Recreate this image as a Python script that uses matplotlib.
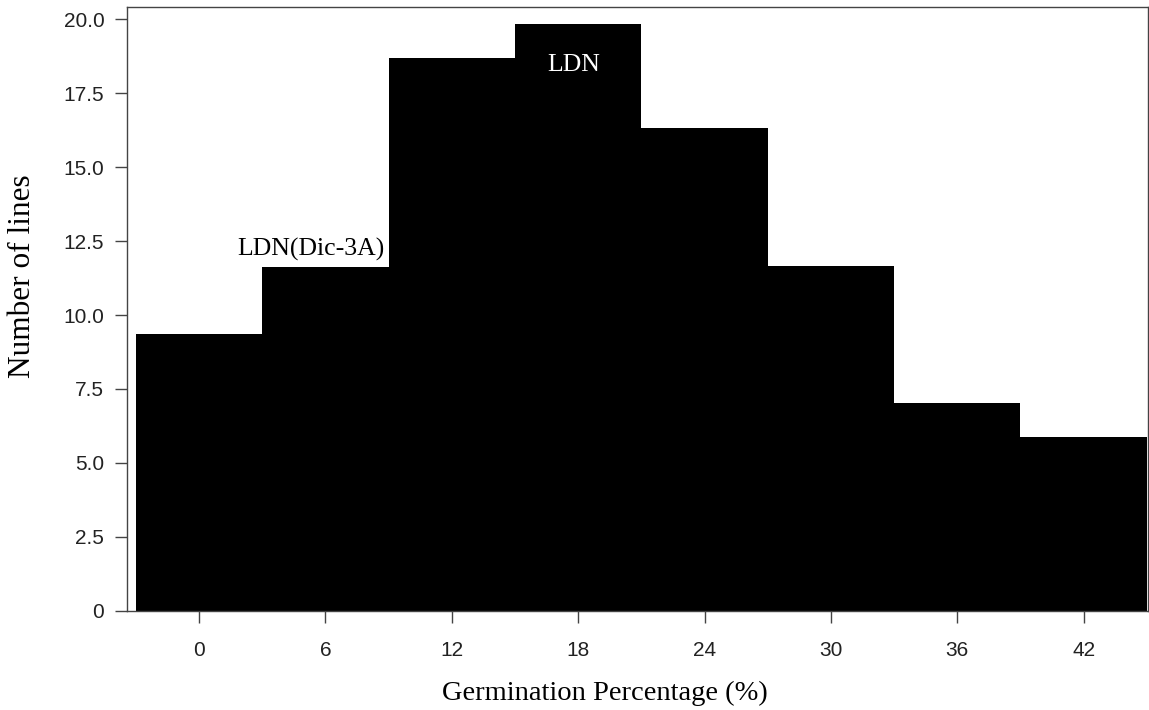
import matplotlib
matplotlib.use('Agg')
import matplotlib.pyplot as plt
from matplotlib import font_manager
from matplotlib.ticker import FuncFormatter

# germination percentage classes (bin centres, width 6) and line counts
bin_centres = [0, 6, 12, 18, 24, 30, 36, 42]
line_counts = [9.35, 11.62, 18.68, 19.83, 16.33, 11.67, 7.01, 5.86]
y_ticks = [0, 2.5, 5.0, 7.5, 10.0, 12.5, 15.0, 17.5, 20.0]


def pick_font(names):
    installed = {f.name for f in font_manager.fontManager.ttflist}
    for n in names:
        if n in installed:
            return n
    return 'DejaVu Sans'


tick_font = pick_font(['Liberation Sans Narrow', 'Liberation Sans', 'DejaVu Sans'])
serif_font = pick_font(['Liberation Serif', 'DejaVu Serif'])

fig = plt.figure(figsize=(11.49, 7.10), dpi=100)
ax = fig.add_axes([126.7 / 1149, 1 - 610.7 / 710, (1148 - 126.7) / 1149, (610.7 - 7) / 710])

ax.bar(bin_centres, line_counts, width=6, color='black', linewidth=0)

ax.set_xlim(-3.44, 45.06)
ax.set_ylim(0, 20.42)

ax.set_xticks(bin_centres)
ax.set_yticks(y_ticks)
ax.yaxis.set_major_formatter(FuncFormatter(lambda v, p: '0' if v == 0 else '%.1f' % v))

for s in ax.spines.values():
    s.set_color('#444444')
    s.set_linewidth(1.0)

ax.tick_params(axis='both', direction='out', length=8.6, width=1.0, color='#444444',
               labelcolor='#222222', labelsize=15)
ax.tick_params(axis='y', pad=7.5)
ax.tick_params(axis='x', pad=13.5)
for lab in ax.get_xticklabels() + ax.get_yticklabels():
    lab.set_family(tick_font)

# bar annotations
ax.text(5.32, 12.0, 'LDN(Dic-3A)', family=serif_font, fontsize=18.5,
        color='black', ha='center', va='baseline')
ax.text(17.8, 18.25, 'LDN', family=serif_font, fontsize=18.5,
        color='white', ha='center', va='baseline')

# axis titles
fig.text(23 / 1149, 1 - 276 / 710, 'Number of lines', family=serif_font,
         fontsize=22.5, rotation=90, ha='center', va='center')
fig.text(605 / 1149, 1 - 700 / 710, 'Germination Percentage (%)', family=serif_font,
         fontsize=20.5, ha='center', va='baseline')

fig.savefig('out.png', dpi=100)
